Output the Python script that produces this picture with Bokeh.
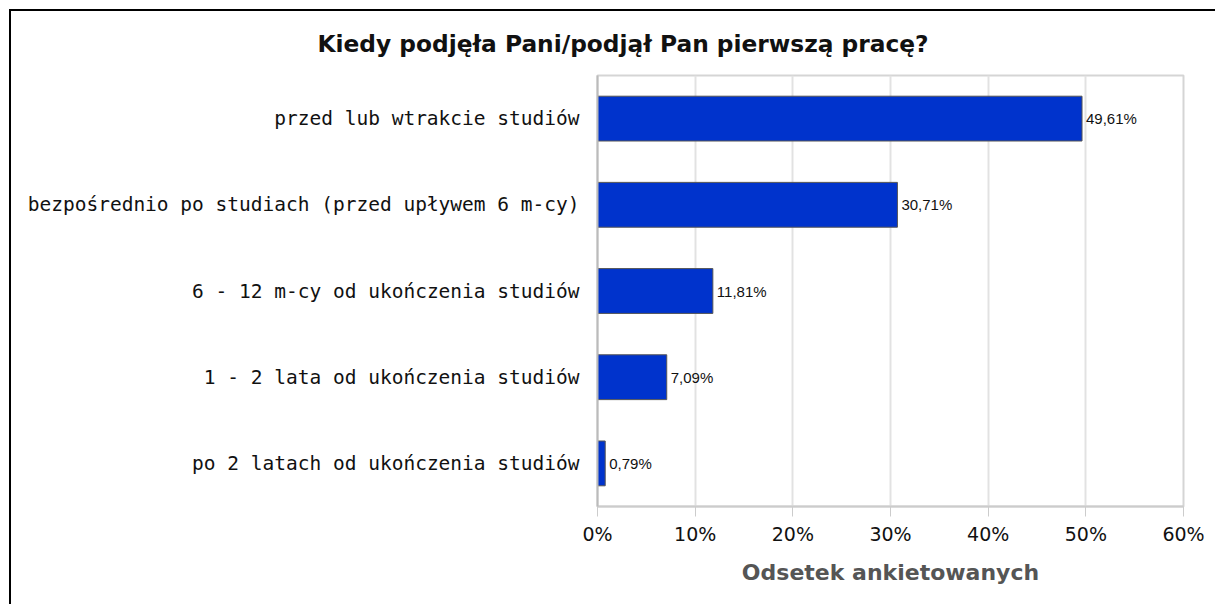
from bokeh.plotting import figure
from bokeh.models import ColumnDataSource, LabelSet, FixedTicker
from bokeh.core.properties import value
from bokeh.embed import file_html
from bokeh.resources import INLINE

categories = [
    "przed lub wtrakcie studiów",
    "bezpośrednio po studiach (przed upływem 6 m-cy)",
    "6 - 12 m-cy od ukończenia studiów",
    "1 - 2 lata od ukończenia studiów",
    "po 2 latach od ukończenia studiów",
]
values = [49.61, 30.71, 11.81, 7.09, 0.79]
value_labels = ["49,61%", "30,71%", "11,81%", "7,09%", "0,79%"]
x_ticks = [0, 10, 20, 30, 40, 50, 60]
x_tick_labels = ["0%", "10%", "20%", "30%", "40%", "50%", "60%"]

src = ColumnDataSource(dict(cat=categories, val=values, lab=value_labels))

p = figure(
    y_range=list(reversed(categories)), x_range=(0, 60),
    width=1204, height=593, output_backend="svg", toolbar_location=None,
    frame_width=586, frame_height=431,
    min_border_left=586, min_border_right=32, min_border_top=64, min_border_bottom=98,
    title="Kiedy podjęła Pani/podjął Pan pierwszą pracę?",
    x_axis_label="Odsetek ankietowanych",
    styles={"margin-left": "9px", "margin-top": "9px",
            "border-top": "2px solid black", "border-left": "2px solid black"},
)

p.hbar(y="cat", right="val", left=0, height=0.52, source=src,
       fill_color="#0033CC", line_color="#555555", line_width=1)

labels = LabelSet(x="val", y="cat", text="lab", source=src, x_offset=4,
                  text_baseline="middle", text_font=value("Liberation Sans"),
                  text_font_size="15px", text_color="#111111")
p.add_layout(labels)

p.title.align = "left"
p.title.vertical_align = "top"
p.title.offset = -280
p.title.standoff = 33
p.title.text_font = "DejaVu Sans"
p.title.text_font_size = "23.3px"
p.title.text_font_style = "bold"
p.title.text_color = "#111111"

p.xaxis.ticker = FixedTicker(ticks=x_ticks)
p.xaxis.major_label_overrides = dict(zip(x_ticks, x_tick_labels))
p.xaxis.major_label_text_font = "DejaVu Sans"
p.xaxis.major_label_text_font_size = "19px"
p.xaxis.major_label_text_color = "#111111"
p.xaxis.major_tick_in = 0
p.xaxis.major_tick_out = 10
p.xaxis.minor_tick_line_color = None
p.xaxis.major_tick_line_color = "#cccccc"
p.xaxis.axis_line_color = "#cccccc"
p.xaxis.axis_line_width = 2
p.xaxis.major_label_standoff = 6
p.xaxis.axis_label_text_font = "DejaVu Sans"
p.xaxis.axis_label_text_font_size = "22px"
p.xaxis.axis_label_text_font_style = "bold"
p.xaxis.axis_label_text_color = "#555555"
p.xaxis.axis_label_standoff = 12

p.yaxis.major_tick_line_color = None
p.yaxis.minor_tick_line_color = None
p.yaxis.axis_line_color = "#bbbbbb"
p.yaxis.axis_line_width = 2
p.yaxis.major_label_text_font = "DejaVu Sans Mono"
p.yaxis.major_label_text_font_size = "19.5px"
p.yaxis.major_label_text_color = "#111111"
p.yaxis.major_label_standoff = 12

p.xgrid.grid_line_color = "#e2e2e2"
p.xgrid.grid_line_width = 2
p.ygrid.grid_line_color = None
p.outline_line_color = "#d5d5d5"
p.outline_line_width = 2

open("out.html", "w").write(file_html(p, INLINE))
